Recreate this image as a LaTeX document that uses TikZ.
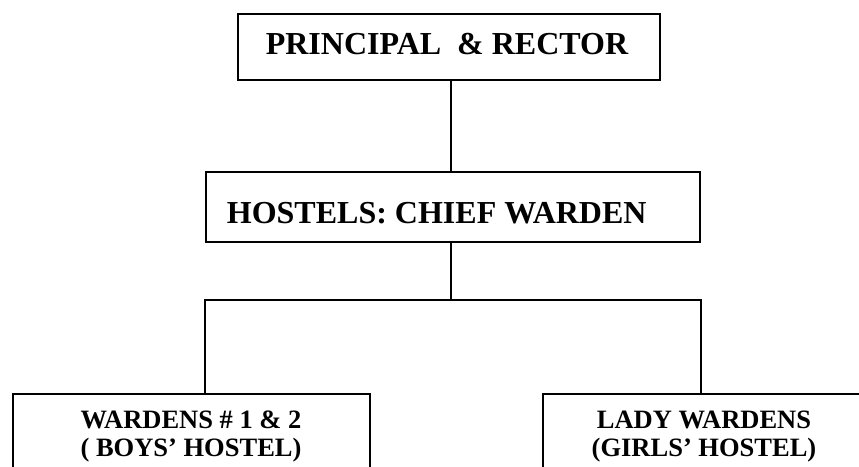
\documentclass[tikz,border=0pt]{standalone}
\usepackage{fontspec}
\setmainfont{Liberation Serif}
\begin{document}
\begin{tikzpicture}[x=1pt,y=-1pt,line width=1.8pt,
  box/.style={draw,line width=1.8pt,inner sep=0pt,anchor=north west},
  big/.style={font=\fontsize{32}{36}\selectfont\bfseries\rmfamily,inner sep=0pt},
  small/.style={font=\fontsize{26.5}{28}\selectfont\bfseries\rmfamily,inner sep=0pt,align=center},
  conn/.style={draw,line width=1.8pt}]
\clip (0,0) rectangle (859,466);
\fill[white] (0,0) rectangle (859,466);
% boxes
\node[box,minimum width=422pt,minimum height=66pt] (top) at (237,13) {};
\node[box,minimum width=494pt,minimum height=70pt] (mid) at (205,171) {};
\node[box,minimum width=357pt,minimum height=120pt] (bl) at (12,393) {};
\node[box,minimum width=320pt,minimum height=120pt] (br) at (542,393) {};
% texts
\node[big,anchor=base] (t1) at (447,54) {PRINCIPAL\ \ \& RECTOR};
\node[big,anchor=base west] (t2) at (226,223) {HOSTELS: CHIEF WARDEN};
\node[small,anchor=base] (t3) at (191,456) {WARDENS \# 1 \& 2\\( BOYS’ HOSTEL)};
\node[small,anchor=base] (t4) at (704,456) {LADY WARDENS\\(GIRLS’ HOSTEL)};
% connectors
\coordinate (bus) at (451,300);
\path[conn] (top.south -| bus) -- (mid.north -| bus);
\path[conn] (mid.south -| bus) -- (bus);
\path[conn] (bl.north -| mid.west) -- (mid.west |- bus) -- (mid.east |- bus) -- (br.north -| mid.east);
\end{tikzpicture}
\end{document}
